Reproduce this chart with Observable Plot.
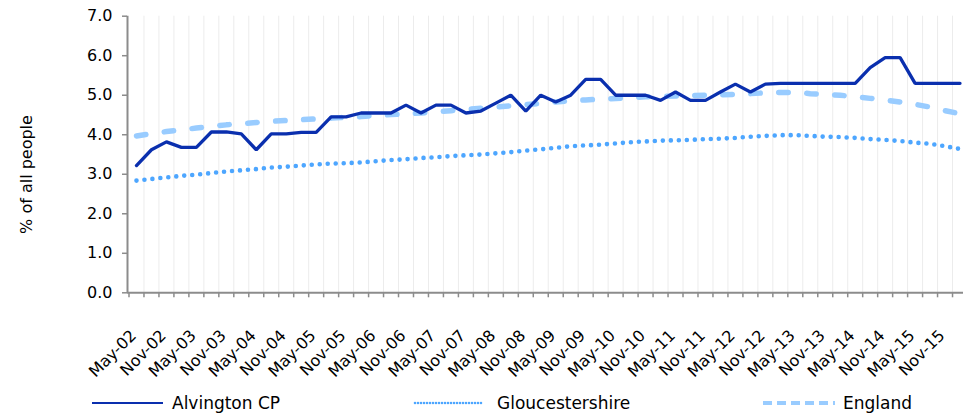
<!DOCTYPE html>
<html>
<head>
<meta charset="utf-8">
<script src="https://cdn.jsdelivr.net/npm/d3@7"></script>
<script src="https://cdn.jsdelivr.net/npm/@observablehq/plot@0.6"></script>
<style>
html, body { margin: 0; padding: 0; background: #fff; overflow: hidden; width: 963px; height: 416px; }
#wrap { position: relative; width: 963px; height: 416px; overflow: hidden; font-family: "DejaVu Sans", sans-serif; }
#chart { position: absolute; left: 0; top: 0; }
#legend { position: absolute; left: 0; top: 390px; width: 963px; height: 26px; }
.sw { position: absolute; top: 0; }
.lab { position: absolute; top: 0; line-height: 26px; font-size: 17px; color: #000; white-space: nowrap; }
</style>
</head>
<body>
<div id="wrap">
  <div id="chart"></div>
  <div id="legend"></div>
</div>
<script>
// Quarterly categories
const quarters = [
  "May-02","Aug-02","Nov-02","Feb-03","May-03","Aug-03","Nov-03","Feb-04",
  "May-04","Aug-04","Nov-04","Feb-05","May-05","Aug-05","Nov-05","Feb-06",
  "May-06","Aug-06","Nov-06","Feb-07","May-07","Aug-07","Nov-07","Feb-08",
  "May-08","Aug-08","Nov-08","Feb-09","May-09","Aug-09","Nov-09","Feb-10",
  "May-10","Aug-10","Nov-10","Feb-11","May-11","Aug-11","Nov-11","Feb-12",
  "May-12","Aug-12","Nov-12","Feb-13","May-13","Aug-13","Nov-13","Feb-14",
  "May-14","Aug-14","Nov-14","Feb-15","May-15","Aug-15","Nov-15","Feb-16"
];

const alvington = [
  3.22, 3.62, 3.82, 3.68, 3.68, 4.07, 4.07, 4.02,
  3.62, 4.02, 4.02, 4.06, 4.06, 4.45, 4.45, 4.55,
  4.55, 4.55, 4.75, 4.55, 4.75, 4.75, 4.55, 4.60,
  4.80, 5.00, 4.60, 5.00, 4.83, 5.00, 5.40, 5.40,
  5.00, 5.00, 5.00, 4.87, 5.08, 4.87, 4.87, 5.08,
  5.28, 5.08, 5.28, 5.30, 5.30, 5.30, 5.30, 5.30,
  5.30, 5.70, 5.95, 5.95, 5.30, 5.30, 5.30, 5.30
];

const gloucestershire = [
  2.84, 2.88, 2.92, 2.96, 2.99, 3.03, 3.07, 3.10,
  3.13, 3.17, 3.19, 3.22, 3.25, 3.27, 3.28, 3.30,
  3.33, 3.36, 3.38, 3.41, 3.43, 3.46, 3.48, 3.50,
  3.53, 3.56, 3.60, 3.63, 3.67, 3.71, 3.73, 3.75,
  3.78, 3.81, 3.83, 3.85, 3.86, 3.87, 3.89, 3.90,
  3.92, 3.95, 3.97, 3.99, 3.99, 3.97, 3.95, 3.94,
  3.92, 3.89, 3.87, 3.84, 3.80, 3.77, 3.71, 3.64
];

const england = [
  3.97, 4.03, 4.08, 4.12, 4.17, 4.21, 4.25, 4.28,
  4.31, 4.34, 4.36, 4.38, 4.40, 4.42, 4.44, 4.46,
  4.49, 4.51, 4.53, 4.55, 4.58, 4.61, 4.64, 4.67,
  4.70, 4.73, 4.76, 4.79, 4.83, 4.86, 4.88, 4.90,
  4.92, 4.94, 4.96, 4.97, 4.98, 4.99, 5.00, 5.01,
  5.02, 5.04, 5.06, 5.07, 5.07, 5.04, 5.02, 5.00,
  4.96, 4.92, 4.88, 4.83, 4.77, 4.70, 4.61, 4.53
];

const yTicks = [0, 1, 2, 3, 4, 5, 6, 7];
const yTitle = "% of all people";
const seriesNames = ["Alvington CP", "Gloucestershire", "England"];
const colors = { alv: "#0a2fae", glo: "#4da6ff", eng: "#99ccff" };

const n = quarters.length;
const idx = d3.range(n);
const bounds = d3.range(n + 1).map(k => k - 0.5);
const labelIdx = idx.filter(i => /^(May|Nov)/.test(quarters[i]));
const axisColor = "#8c8c8c";

const chart = Plot.plot({
  width: 967,
  height: 390,
  marginLeft: 127,
  marginRight: 0,
  marginTop: 15.7,
  marginBottom: 97.7,
  style: { maxWidth: "none", fontFamily: "'DejaVu Sans', sans-serif", fontSize: "16px", color: "#000", background: "transparent", overflow: "visible" },
  x: { type: "linear", domain: [-0.6, n - 0.5], axis: null },
  y: { domain: [0, 7], axis: null },
  marks: [
    Plot.gridX(bounds.slice(1), { stroke: "#ececec", strokeOpacity: 1, strokeWidth: 1 }),
    Plot.axisX(bounds, { tickSize: 5, tickFormat: () => "", stroke: axisColor, strokeWidth: 1.5, label: null }),
    Plot.text(labelIdx, { x: i => i, y: () => 0, text: i => quarters[i], rotate: -45, textAnchor: "end", dx: -3, dy: 40, fontSize: 16, fill: "#000" }),
    Plot.axisY(yTicks, { tickSize: 5, tickPadding: 10, tickFormat: d => d.toFixed(1), stroke: axisColor, strokeWidth: 1.5, fontSize: 16, label: null }),
    Plot.ruleX([-0.6], { y1: 0, y2: 7, stroke: axisColor, strokeWidth: 2 }),
    Plot.ruleY([0], { x1: -0.6, x2: n - 0.5, stroke: axisColor, strokeWidth: 2 }),
    Plot.text([yTitle], { frameAnchor: "left", dx: -101, dy: 20, rotate: -90, fontSize: 16, textAnchor: "middle", fill: "#000" }),
    Plot.line(idx, { x: i => i, y: i => gloucestershire[i], stroke: colors.glo, strokeWidth: 4.6, strokeDasharray: "0 8", strokeLinecap: "round" }),
    Plot.line(idx, { x: i => i, y: i => england[i], stroke: colors.eng, strokeWidth: 5.5, strokeDasharray: "9.5 18.5", strokeLinecap: "round" }),
    Plot.line(idx, { x: i => i, y: i => alvington[i], stroke: colors.alv, strokeWidth: 3.3, strokeLinejoin: "miter" })
  ]
});
document.getElementById("chart").appendChild(chart);

// Legend
const legendItems = [
  { name: seriesNames[0], x1: 92, x2: 163, tx: 172, stroke: colors.alv, width: 2.2, dash: null, cap: "butt" },
  { name: seriesNames[1], x1: 415, x2: 483, tx: 497, stroke: colors.glo, width: 2.6, dash: "0 3", cap: "round" },
  { name: seriesNames[2], x1: 763, x2: 835, tx: 843, stroke: colors.eng, width: 4, dash: "9 5", cap: "butt" }
];
const legend = document.getElementById("legend");
legendItems.forEach(it => {
  const w = it.x2 - it.x1;
  const svg = d3.create("svg").attr("class", "sw").attr("width", w + 4).attr("height", 26)
    .style("left", (it.x1 - 2) + "px");
  svg.append("line").attr("x1", 2).attr("x2", w + 2).attr("y1", 13).attr("y2", 13)
    .attr("stroke", it.stroke).attr("stroke-width", it.width)
    .attr("stroke-dasharray", it.dash).attr("stroke-linecap", it.cap);
  legend.appendChild(svg.node());
  const span = document.createElement("span");
  span.className = "lab";
  span.style.left = it.tx + "px";
  span.textContent = it.name;
  legend.appendChild(span);
});
</script>
</body>
</html>
